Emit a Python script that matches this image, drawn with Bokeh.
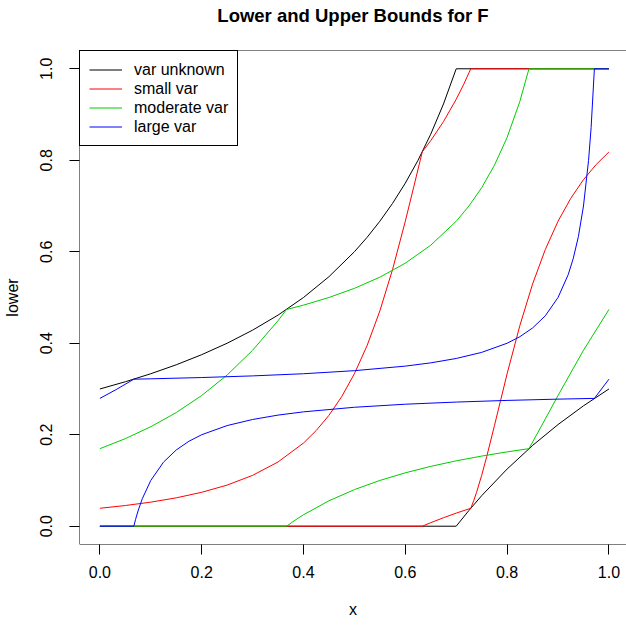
from bokeh.plotting import figure
from bokeh.models import Range1d, FixedTicker, PrintfTickFormatter, Span, Title
from bokeh.embed import file_html
from bokeh.resources import INLINE

# ---- data ----
tick_values = [0.0, 0.2, 0.4, 0.6, 0.8, 1.0]
series_names = ["var unknown", "small var", "moderate var", "large var"]
series_colors = ["black", "#FF0000", "#00CD00", "#0000FF"]

# var unknown
unk_upper_x = [0, 0.05, 0.1, 0.15, 0.2, 0.25, 0.3, 0.35, 0.4, 0.45, 0.5, 0.525, 0.55, 0.575,
               0.6, 0.625, 0.65, 0.675, 0.7, 1.0]
unk_upper_y = [0.3, 0.3158, 0.3333, 0.3529, 0.375, 0.4, 0.4286, 0.4615, 0.5, 0.5455, 0.6, 0.6316,
               0.6667, 0.7059, 0.75, 0.8, 0.8571, 0.9231, 1.0, 1.0]
unk_lower_x = [0, 0.7, 0.725, 0.75, 0.8, 0.85, 0.9, 0.95, 1.0]
unk_lower_y = [0, 0, 0.0345, 0.0667, 0.125, 0.1765, 0.2222, 0.2632, 0.3]

# small var
small_upper_x = [0, 0.05, 0.1, 0.15, 0.2, 0.25, 0.3, 0.35, 0.4, 0.425, 0.45, 0.475, 0.5, 0.525,
                 0.55, 0.575, 0.6, 0.6167, 0.6333, 0.65, 0.675, 0.7, 0.7143, 0.7286, 1.0]
small_upper_y = [0.0392, 0.0452, 0.0526, 0.0620, 0.0741, 0.0899, 0.1111, 0.1404, 0.1818, 0.2092,
                 0.2424, 0.2832, 0.3333, 0.3951, 0.4706, 0.5614, 0.6667, 0.7423, 0.8182, 0.8429,
                 0.8846, 0.9333, 0.9650, 1.0, 1.0]
small_lower_x = [0, 0.6333, 0.65, 0.675, 0.7, 0.7286, 0.7343, 0.74, 0.75, 0.76, 0.775, 0.8, 0.825,
                 0.85, 0.875, 0.9, 0.925, 0.95, 0.975, 1.0]
small_lower_y = [0, 0, 0.0077, 0.0185, 0.0286, 0.0392, 0.0556, 0.0741, 0.1111, 0.1525, 0.2195,
                 0.3333, 0.4386, 0.5294, 0.6049, 0.6667, 0.7168, 0.7576, 0.7908, 0.8182]

# moderate var
mod_upper_x = [0, 0.05, 0.1, 0.15, 0.2, 0.25, 0.3, 0.35, 0.3667, 0.4, 0.45, 0.5, 0.55, 0.6, 0.65,
               0.7, 0.725, 0.75, 0.775, 0.8, 0.825, 0.8429, 1.0]
mod_upper_y = [0.1695, 0.1914, 0.2174, 0.2484, 0.2857, 0.3306, 0.3846, 0.4494, 0.4737, 0.4833, 0.5,
               0.52, 0.5444, 0.575, 0.6143, 0.6667, 0.7, 0.74, 0.7889, 0.85, 0.9286, 1.0, 1.0]
mod_lower_x = [0, 0.3667, 0.3833, 0.4, 0.45, 0.5, 0.55, 0.6, 0.65, 0.7, 0.75, 0.8, 0.8429, 0.875,
               0.9, 0.95, 1.0]
mod_lower_y = [0, 0, 0.013, 0.025, 0.0556, 0.08, 0.1, 0.1167, 0.1308, 0.1429, 0.1533, 0.1625,
               0.1695, 0.2344, 0.2857, 0.3846, 0.4737]

# large var
large_upper_x = [0, 0.0333, 0.0667, 0.1, 0.2, 0.3, 0.4, 0.5, 0.6, 0.65, 0.7, 0.75, 0.8, 0.825,
                 0.85, 0.875, 0.9, 0.92, 0.93, 0.94, 0.95, 0.96, 0.965, 0.9714, 1.0]
large_upper_y = [0.2794, 0.2995, 0.3214, 0.3222, 0.325, 0.3286, 0.3333, 0.34, 0.35, 0.3571, 0.3667,
                 0.38, 0.4, 0.4143, 0.4333, 0.46, 0.5, 0.55, 0.5857, 0.6333, 0.7, 0.8, 0.8714,
                 1.0, 1.0]
large_lower_x = [0, 0.0667, 0.07, 0.075, 0.0833, 0.1, 0.125, 0.15, 0.175, 0.2, 0.25, 0.3, 0.35,
                 0.4, 0.5, 0.6, 0.7, 0.8, 0.9, 0.9714, 1.0]
large_lower_y = [0, 0, 0.0143, 0.0333, 0.06, 0.1, 0.14, 0.1667, 0.1857, 0.2, 0.22, 0.2333, 0.2429,
                 0.25, 0.26, 0.2667, 0.2714, 0.275, 0.2778, 0.2794, 0.3214]

curves = [
    (unk_lower_x, unk_lower_y, unk_upper_x, unk_upper_y),
    (small_lower_x, small_lower_y, small_upper_x, small_upper_y),
    (mod_lower_x, mod_lower_y, mod_upper_x, mod_upper_y),
    (large_lower_x, large_lower_y, large_upper_x, large_upper_y),
]

title_text = "Lower and Upper Bounds for F"
FONT = "Liberation Sans"
X0, X1 = -0.04, 1.0345
Y0, Y1 = -0.04, 1.04

p = figure(width=626, height=625, output_backend="svg", toolbar_location=None,
           x_range=Range1d(X0, X1), y_range=Range1d(Y0, Y1),
           min_border_left=78, min_border_right=0, min_border_top=50, min_border_bottom=81)

# blank spacer next to the plot region, then the main title above it
p.add_layout(Title(text=" ", text_font=FONT, text_font_size="10px", standoff=7), "above")
p.add_layout(Title(text=title_text, align="center", vertical_align="top", standoff=5,
                   text_font=FONT, text_font_size="18.5px", text_font_style="bold",
                   text_color="black"), "above")

for (lx, ly, ux, uy), name, col in zip(curves, series_names, series_colors):
    p.line(lx, ly, line_color=col, line_width=1, legend_label=name)
    p.line(ux, uy, line_color=col, line_width=1)

p.xgrid.visible = False
p.ygrid.visible = False
p.outline_line_color = None

# box on left, top and bottom (the right side lies past the page edge)
for loc, dim in ((X0, "height"), (Y0, "width"), (Y1, "width")):
    p.add_layout(Span(location=loc, dimension=dim, line_color="black", line_width=1))

for ax in (p.xaxis[0], p.yaxis[0]):
    ax.ticker = FixedTicker(ticks=tick_values)
    ax.formatter = PrintfTickFormatter(format="%.1f")
    ax.axis_line_color = None
    ax.major_tick_in = 0
    ax.major_tick_out = 10
    ax.major_tick_line_color = "black"
    ax.minor_tick_line_color = None
    ax.major_label_text_font = FONT
    ax.major_label_text_font_size = "16px"
    ax.major_label_text_color = "black"
    ax.axis_label_text_font = FONT
    ax.axis_label_text_font_size = "16px"
    ax.axis_label_text_font_style = "normal"
    ax.axis_label_text_color = "black"

p.xaxis.axis_label = "x"
p.yaxis.axis_label = "lower"
p.xaxis.major_label_standoff = 11
p.xaxis.axis_label_standoff = 20
p.yaxis.major_label_standoff = 17
p.yaxis.axis_label_standoff = 17
p.yaxis.major_label_orientation = "parallel"

lg = p.legend[0]
lg.location = "top_left"
lg.margin = 0
lg.padding = 9
lg.spacing = 0
lg.glyph_height = 19
lg.label_height = 19
lg.glyph_width = 33
lg.label_standoff = 12
lg.label_text_font = FONT
lg.label_text_font_size = "16px"
lg.label_text_color = "black"
lg.border_line_color = "black"
lg.border_line_width = 1
lg.border_line_alpha = 1
lg.background_fill_color = "white"
lg.background_fill_alpha = 1

open("out.html", "w").write(file_html(p, INLINE))
